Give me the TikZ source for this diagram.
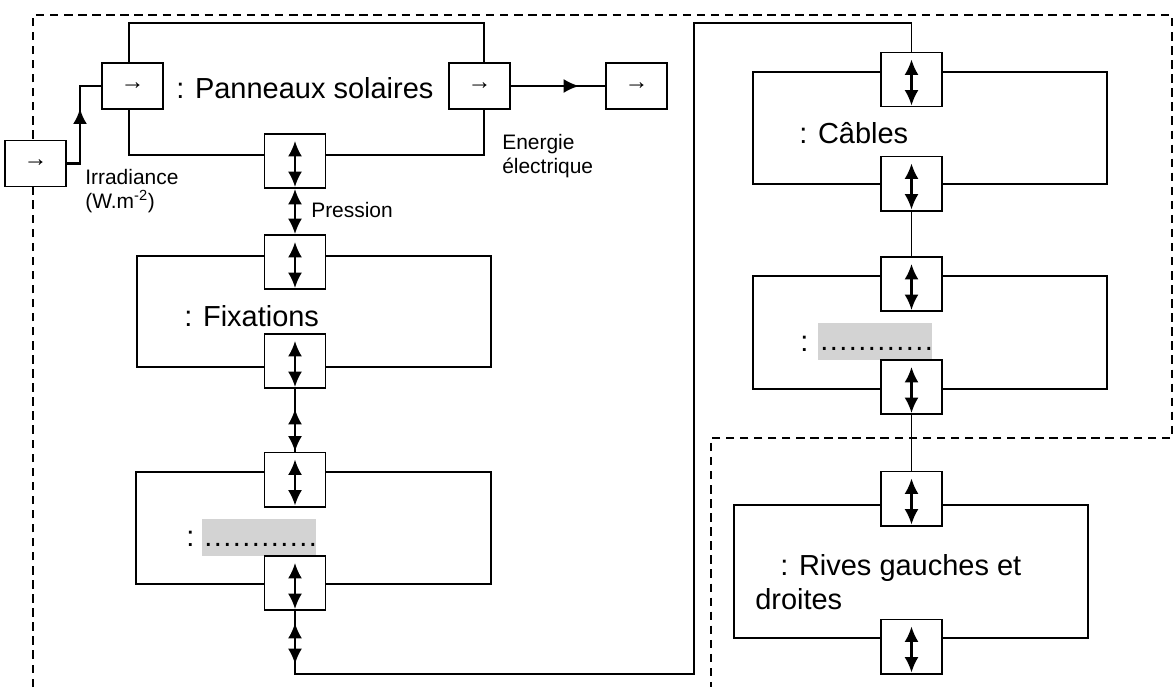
\documentclass[tikz,border=0pt]{standalone}
\usepackage{fontspec}
\setmainfont{Liberation Sans}
\usetikzlibrary{arrows.meta,positioning,calc}
\definecolor{blankgray}{RGB}{211,211,211}
\newcommand{\bigtext}{\fontsize{20.6}{24.1}\selectfont}
\newcommand{\smalltext}{\fontsize{14.9}{17.4}\selectfont}
\newcommand{\flowtext}{\fontsize{17}{17}\selectfont}
\newcommand{\dotstext}{\bigtext\addfontfeatures{LetterSpace=5}}

\begin{document}
\begin{tikzpicture}[x=0.025cm, y=-0.025cm,
	block/.style={draw, line width=1.4pt, inner sep=0pt, minimum width=8.85cm},
	vport/.style={draw, fill=white, line width=1.4pt, inner sep=0pt, minimum width=1.525cm, minimum height=1.35cm},
	hport/.style={draw, fill=white, line width=1.4pt, inner sep=0pt, minimum width=1.525cm, minimum height=1.15cm, font=\flowtext},
	link/.style={line width=1.4pt},
	onearrow/.style={line width=1.4pt, -{Latex[length=11pt,width=10pt]}},
	twoarrow/.style={line width=1.5pt, {Latex[length=11pt,width=10pt]}-{Latex[length=11pt,width=10pt]}},
	frame/.style={line width=1.2pt, dash pattern=on 6pt off 4pt},
	txt/.style={inner sep=0pt, anchor=base west},
	blank/.style={fill=blankgray, inner sep=0pt, minimum width=2.85cm, minimum height=0.925cm}
	]
		\useasboundingbox (0,0) rectangle (1176,687);
		\draw[frame] (33,687) -- (33,15) -- (1172,15) -- (1172,438) -- (711,438) -- (711,687);
		
		% blocs
		\node[block, minimum height=3.3cm]		(panneaux)	at (306.5,89)		{};
		\node[block, minimum height=2.775cm]	(fixations)	at (314,311.5)		{};
		\node[block, minimum height=2.8cm]		(vide1)		at (313.5,528)		{};
		\node[block, minimum height=2.8cm]		(cables)	at (930,128)		{};
		\node[block, minimum height=2.825cm]	(vide2)		at (930,332.5)		{};
		\node[block, minimum height=3.325cm]	(rives)		at (911,571.5)		{};
		
		\node[txt, font=\bigtext]	(panneauxlbl)	at (176,98)		{: Panneaux solaires};
		\node[txt, font=\bigtext]	(fixationslbl)	at (184,326)	{: Fixations};
		\node[txt, font=\bigtext]	(cableslbl)		at (799,143)	{: Câbles};
		\node[txt, font=\bigtext]	(riveslbl)		at (780,575)	{: Rives gauches et};
		\node[txt, font=\bigtext]	(riveslbltwo)	at (755,609)	{droites};
		
		\node[blank]				(blank1)		at (259,537.5)	{};
		\node[txt, font=\bigtext]	(vide1colon)	at (186,546)	{:};
		\node[txt, font=\dotstext]	(vide1dots)		at (204,546)	{............};
		\node[blank]				(blank2)		at (875,341.5)	{};
		\node[txt, font=\bigtext]	(vide2colon)	at (800,351)	{:};
		\node[txt, font=\dotstext]	(vide2dots)		at (820,350)	{............};
		
		% ports
		\node[hport]	(source)		at (35.5,163.5)	{→};
		\node[hport]	(pin)			at (132.5,86)	{→};
		\node[hport]	(pout)			at (479.5,86)	{→};
		\node[hport]	(sink)			at (636.5,86)	{→};
		\node[vport]	(pbas)			at (295,161)	{};
		\node[vport]	(fixhaut)		at (295,262)	{};
		\node[vport]	(fixbas)		at (295,361)	{};
		\node[vport]	(vide1haut)		at (295,479.5)	{};
		\node[vport]	(vide1bas)		at (295,583)	{};
		\node[vport]	(cableshaut)	at (911.5,79.5)	{};
		\node[vport]	(cablesbas)		at (911.5,183.5)	{};
		\node[vport]	(vide2haut)		at (911.5,284)	{};
		\node[vport]	(vide2bas)		at (911.5,387)	{};
		\node[vport]	(riveshaut)		at (911.5,498.5)	{};
		\node[vport]	(rivesbas)		at (911.5,646.5)	{};
		\foreach \p in {pbas,fixhaut,fixbas,vide1haut,vide1bas,cableshaut,cablesbas,vide2haut,vide2bas,riveshaut,rivesbas}
			\draw[twoarrow] ($(\p.north)+(0,8)$) -- ($(\p.south)+(0,-2)$);
		
		% flux
		\coordinate (irrbend) at (80,163.5);
		\draw[link, line width=2pt] (source.east) -- (irrbend) |- (pin.west);
		\draw[onearrow, line width=2pt] (irrbend) -- ++(0,-55);
		\node[txt, font=\smalltext]	(irrlbl)		at (85,184)		{Irradiance};
		\node[txt, font=\smalltext]	(irrunit)		at (85,208)		{(W.m\textsuperscript{-2})};
		
		\draw[link] (pout.east) -- (sink.west);
		\draw[onearrow] (pout.east) -- ++(68,0);
		\node[txt, font=\smalltext]	(energielbl)	at (502,149)	{Energie};
		\node[txt, font=\smalltext]	(energielbltwo)	at (502,173)	{électrique};
		
		\draw[twoarrow] (pbas.south) -- (fixhaut.north);
		\node[txt, font=\smalltext]	(pressionlbl)	at (311,217)	{Pression};
		
		\draw[link] (fixbas.south) -- (vide1haut.north);
		\draw[twoarrow] ($(fixbas.south)+(0,20)$) -- (vide1haut.north);
		
		\coordinate (retourbas)		at (694,674);
		\coordinate (retourhaut)	at (694,23);
		\draw[link] (vide1bas.south) |- (retourbas) -- (retourhaut) -| (cableshaut.north);
		\draw[twoarrow] ($(vide1bas.south)+(0,12)$) -- ++(0,41);
		
		\draw[link] (cablesbas.south) -- (vide2haut.north);
		\draw[link] (vide2bas.south) -- (riveshaut.north);
	\end{tikzpicture}
\end{document}
